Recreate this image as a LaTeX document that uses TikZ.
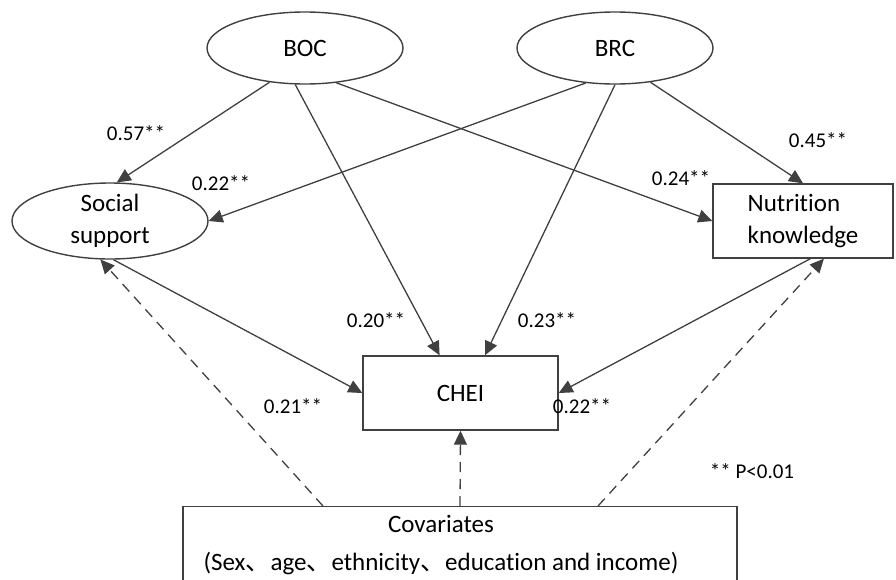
\documentclass[tikz,border=0pt]{standalone}
\usepackage{fontspec}
\setmainfont{Carlito}[Ligatures=NoCommon]
\newfontfamily\cjk{Noto Sans CJK SC}
\usetikzlibrary{shapes.geometric,arrows.meta}
\definecolor{linegray}{HTML}{404040}

\begin{document}
\begin{tikzpicture}[x=1pt, y=-1pt,
      every node/.style={font=\fontsize{25}{32}\selectfont},
      latent/.style={draw=linegray, line width=1.4pt, ellipse, inner sep=0pt,
                     minimum width=196pt, align=center},
      box/.style={draw=linegray, line width=1.4pt, inner sep=0pt, align=center},
      coef/.style={font=\fontsize{21}{24}\selectfont},
      effect/.style={draw=linegray, line width=1.3pt, -{Triangle[length=14pt,width=13pt]}},
      control/.style={effect, dash pattern=on 10pt off 7pt}]
    \useasboundingbox (0,0) rectangle (896,579);
    \clip (0,0) rectangle (896,579);
    \node[latent, minimum height=72pt] (boc)  at (305,48)    {BOC};
    \node[latent, minimum height=72pt] (brc)  at (615,48)    {BRC};
    \node[latent, minimum height=76pt] (ss)   at (110,221)   {Social\\support};
    \node[box, minimum width=180pt, minimum height=74pt, align=left] (nk) at (803,221) {Nutrition\\knowledge};
    \node[box, minimum width=195pt, minimum height=74pt] (chei) at (460.5,393) {CHEI};
    \node[box, anchor=north, minimum width=554pt, inner ysep=9pt, text depth=40pt] (cov) at (460,506)
      {Covariates\hspace*{38pt}\\[6pt](Sex{\cjk 、}age{\cjk 、}ethnicity{\cjk 、}education and income)\hspace*{38pt}};
    \draw[effect] (boc.224) -- (ss.80);
    \draw[effect] (boc.255) -- (chei.119);
    \draw[effect] (boc.312) -- (nk.west);
    \draw[effect] (brc.230) -- (ss.east);
    \draw[effect] (brc.270) -- (chei.57);
    \draw[effect] (brc.316) -- (nk.north);
    \draw[effect] (ss.275)  -- (chei.west);
    \draw[effect] (nk.281)  -- (chei.east);
    \draw[control] ([xshift=-137pt]cov.north) -- (ss.256);
    \draw[control] (cov.north) -- (chei.south);
    \draw[control] ([xshift=138pt]cov.north) -- (nk.299);
    \node[coef] (c57) at (136,133) {0.57**};
    \node[coef] (c22a) at (221,183) {0.22**};
    \node[coef] (c24) at (681,178) {0.24**};
    \node[coef] (c45) at (818,140) {0.45**};
    \node[coef] (c20) at (376,320) {0.20**};
    \node[coef] (c23) at (547,320) {0.23**};
    \node[coef] (c21) at (293,406) {0.21**};
    \node[coef] (c22b) at (582,406) {0.22**};
    \node[coef] (sig) at (752,471) {** P<0.01};
  \end{tikzpicture}
\end{document}
